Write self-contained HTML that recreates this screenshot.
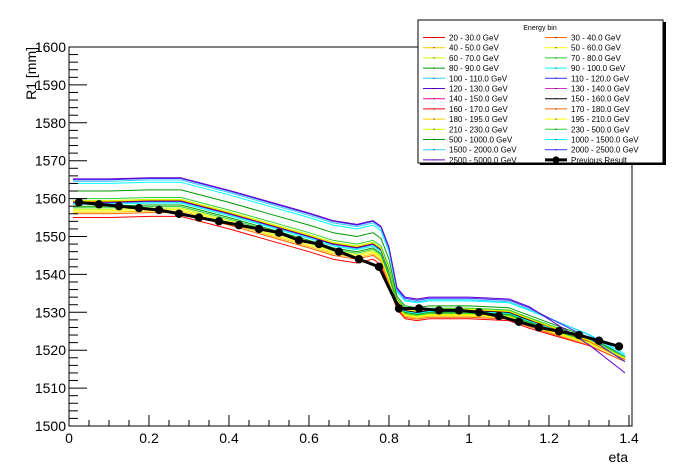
<!DOCTYPE html>
<html><head><meta charset="utf-8"><style>
body{margin:0;background:#fff;}
svg{display:block;font-family:"Liberation Sans",sans-serif;}
</style></head><body>
<svg id="chart" width="698" height="474" viewBox="0 0 698 474" xmlns="http://www.w3.org/2000/svg">
<rect width="698" height="474" fill="#fff"/>
<g id="plot"></g>
<g id="axes"></g>
<g id="legend"></g>
</svg>
<script>
const baseEta = [0.01,0.1,0.2,0.28,0.4,0.5,0.6,0.66,0.72,0.76,0.78,0.8,0.82,0.84,0.87,0.9,1.0,1.1,1.15,1.2,1.3,1.39];
const baseR1  = [1559,1559,1559.3,1559.3,1556,1553,1550,1548,1547,1548,1546.5,1541,1533,1530.5,1530,1530.5,1530.5,1530,1528,1526,1522,1517];
const binLabels = ["20 - 30.0 GeV","30 - 40.0 GeV","40 - 50.0 GeV","50 - 60.0 GeV","60 - 70.0 GeV","70 - 80.0 GeV","80 - 90.0 GeV","90 - 100.0 GeV","100 - 110.0 GeV","110 - 120.0 GeV","120 - 130.0 GeV","130 - 140.0 GeV","140 - 150.0 GeV","150 - 160.0 GeV","160 - 170.0 GeV","170 - 180.0 GeV","180 - 195.0 GeV","195 - 210.0 GeV","210 - 230.0 GeV","230 - 500.0 GeV","500 - 1000.0 GeV","1000 - 1500.0 GeV","1500 - 2000.0 GeV","2000 - 2500.0 GeV","2500 - 5000.0 GeV"];
const binColors = ["#ff0000","#ff6600","#ffcc00","#ffff00","#ccff00","#33cc33","#009900","#00ffff","#33ccff","#3333ff","#6600cc","#cc33cc","#ff0099","#000000","#ff0000","#ff6600","#ffcc00","#ffff00","#ccff00","#33cc33","#009900","#00ffff","#33ccff","#3333ff","#6600cc"];
const offsetBarrel = [-4,-3,-2.6,-2.2,-1.8,-1.4,-1,-0.5,-0.2,0,0,0.2,0.3,0.2,0.3,0.3,0.4,0.4,0.5,1,3,5,5.6,6,6.2];
const offsetMid    = [-2.2,-1.8,-1.5,-1.2,-1,-0.8,-0.5,-0.3,0,0,0,0.2,0.1,0,0.2,0.2,0.3,0.3,0.4,0.6,1.2,2.5,2.8,3.2,3.5];
const offsetEnd    = [0,0,0.5,0.5,0.8,1,1,1,1,1.2,1.2,1,1,1,0.5,0.5,0.8,0.8,1,1.2,1.5,2,1.5,0,-3];
const prevEta = [0.025,0.075,0.125,0.175,0.225,0.275,0.325,0.375,0.425,0.475,0.525,0.575,0.625,0.675,0.725,0.775,0.825,0.875,0.925,0.975,1.025,1.075,1.125,1.175,1.225,1.275,1.325,1.375];
const prevR1  = [1559,1558.5,1558,1557.5,1557,1556,1555,1554,1553,1552,1551,1549,1548,1546,1544,1542,1531,1531,1530.5,1530.5,1530,1529,1527.5,1526,1525,1524,1522.5,1521];
const yTicks = [1500,1510,1520,1530,1540,1550,1560,1570,1580,1590,1600];
const xTicks = [0,0.2,0.4,0.6,0.8,1,1.2,1.4];

const NS="http://www.w3.org/2000/svg";
const X0=69,X1=632,Y0=426,Y1=47, XMIN=0,XMAX=1.4075,YMIN=1500,YMAX=1600;
const sx=v=>X0+(v-XMIN)/(XMAX-XMIN)*(X1-X0);
const sy=v=>Y0-(v-YMIN)/(YMAX-YMIN)*(Y0-Y1);
function mk(tag,attrs,parent){const e=document.createElementNS(NS,tag);for(const k in attrs)e.setAttribute(k,attrs[k]);parent.appendChild(e);return e;}
const plot=document.getElementById('plot'),axes=document.getElementById('axes'),leg=document.getElementById('legend');

binLabels.forEach((lab,i)=>{
  const pts=baseEta.map((x,j)=>{
    let off;
    if(x<=0.8) off=offsetBarrel[i];
    else if(x<=1.15) off=offsetMid[i];
    else off=offsetMid[i]+(offsetEnd[i]-offsetMid[i])*(x-1.15)/(1.39-1.15);
    return sx(x).toFixed(1)+','+sy(baseR1[j]+off).toFixed(1);
  });
  const p=mk('polyline',{points:pts.join(' '),fill:'none',stroke:binColors[i],'stroke-width':1,'stroke-linejoin':'round'},plot);
  
  
});
const prev=mk('polyline',{points:prevEta.map((x,j)=>sx(x)+','+sy(prevR1[j])).join(' '),fill:'none',stroke:'#000','stroke-width':3},plot);


prevEta.forEach((x,j)=>{
  const c=mk('circle',{cx:sx(x),cy:sy(prevR1[j]),r:4.2,fill:'#000'},plot);
  
  
});

const frame=mk('rect',{x:X0,y:Y1,width:X1-X0,height:Y0-Y1,fill:'none',stroke:'#000','stroke-width':1},axes);


for(let v=1500;v<=1600.001;v+=2){
  const major=Math.abs(v%10)<0.01;
  mk('line',{x1:X0,x2:X0+(major?18:9),y1:sy(v),y2:sy(v),stroke:'#000','stroke-width':1},axes);
}
yTicks.forEach(v=>{
  const t=mk('text',{x:X0-3,y:sy(v)+5,'text-anchor':'end','font-size':14},axes);
  t.textContent=v;
  
  
});
for(let v=0;v<=1.4075;v+=0.05){
  const major=Math.abs((v/0.2)-Math.round(v/0.2))<0.01;
  mk('line',{x1:sx(v),x2:sx(v),y1:Y0,y2:Y0-(major?11:6),stroke:'#000','stroke-width':1},axes);
}
xTicks.forEach(v=>{
  const t=mk('text',{x:sx(v),y:Y0+17,'text-anchor':'middle','font-size':14},axes);
  t.textContent=String(v);
  
  
});
const xt=mk('text',{x:628,y:462,'text-anchor':'end','font-size':14},axes);xt.textContent='eta';


const yt=mk('text',{x:0,y:0,'text-anchor':'end','font-size':14,transform:'translate(36,47) rotate(-90)'},axes);yt.textContent='R1 [mm]';



mk('rect',{x:420,y:22,width:246,height:143,fill:'#000'},leg);
const lb=mk('rect',{x:418,y:20,width:245,height:143,fill:'#fff',stroke:'#000','stroke-width':1},leg);


const lt=mk('text',{x:540,y:30,'text-anchor':'middle','font-size':7},leg);lt.textContent='Energy bin';


const entries=binLabels.map((l,i)=>({l,c:binColors[i]})).concat([{l:'Previous Result',c:'#000',prev:true}]);
entries.forEach((e,i)=>{
  const col=i%2,row=Math.floor(i/2);
  const lx=col?545:423, y=37.5+row*10.2;
  const g=mk('g',{},leg);
  
  
  mk('line',{x1:lx,x2:lx+22,y1:y,y2:y,stroke:e.c,'stroke-width':e.prev?3:1},g);
  if(e.prev) mk('circle',{cx:lx+11,cy:y,r:3.5,fill:'#000'},g);
  else mk('rect',{x:lx+10.5,y:y-0.5,width:1,height:1,fill:'#000'},g);
  const t=mk('text',{x:lx+26,y:y+3,'font-size':8},g);t.textContent=e.l;
});
</script>
</body></html>
